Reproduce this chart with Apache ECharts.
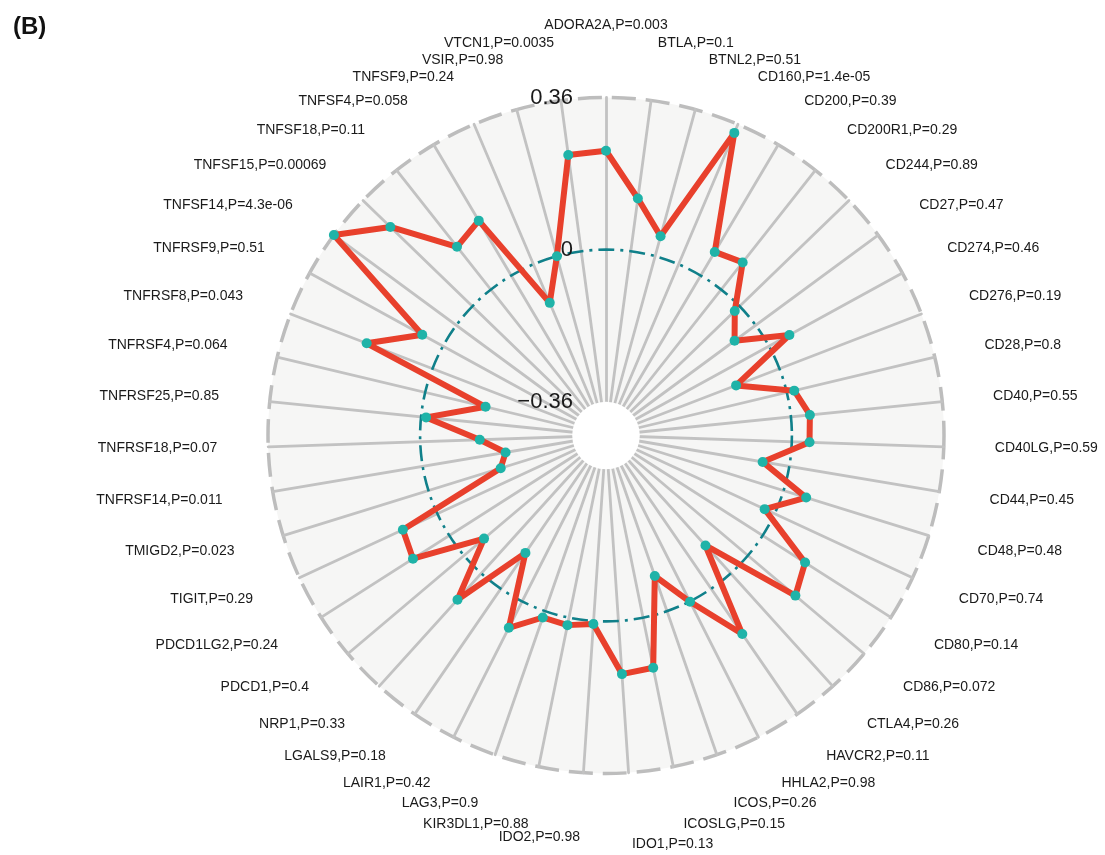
<!DOCTYPE html>
<html>
<head>
<meta charset="utf-8">
<title>radar</title>
<script src="https://cdn.jsdelivr.net/npm/echarts@6/dist/echarts.min.js"></script>
<style>
  html, body { margin: 0; padding: 0; background: #fff; }
  #main { width: 1105px; height: 855px; }
</style>
</head>
<body>
<div id="main"></div>
<script>
// genes, clockwise from the top
var genes = ['ADORA2A', 'BTLA', 'BTNL2', 'CD160', 'CD200', 'CD200R1', 'CD244', 'CD27', 'CD274', 'CD276',
  'CD28', 'CD40', 'CD40LG', 'CD44', 'CD48', 'CD70', 'CD80', 'CD86', 'CTLA4', 'HAVCR2',
  'HHLA2', 'ICOS', 'ICOSLG', 'IDO1', 'IDO2', 'KIR3DL1', 'LAG3', 'LAIR1', 'LGALS9', 'NRP1',
  'PDCD1', 'PDCD1LG2', 'TIGIT', 'TMIGD2', 'TNFRSF14', 'TNFRSF18', 'TNFRSF25', 'TNFRSF4', 'TNFRSF8', 'TNFRSF9',
  'TNFSF14', 'TNFSF15', 'TNFSF18', 'TNFSF4', 'TNFSF9', 'VSIR', 'VTCN1'];
var pvals = ['0.003', '0.1', '0.51', '1.4e-05', '0.39', '0.29', '0.89', '0.47', '0.46', '0.19',
  '0.8', '0.55', '0.59', '0.45', '0.48', '0.74', '0.14', '0.072', '0.26', '0.11',
  '0.98', '0.26', '0.15', '0.13', '0.98', '0.88', '0.9', '0.42', '0.18', '0.33',
  '0.4', '0.24', '0.29', '0.023', '0.011', '0.07', '0.85', '0.064', '0.043', '0.51',
  '4.3e-06', '0.00069', '0.11', '0.058', '0.24', '0.98', '0.0035'];
var corr = [0.234, 0.126, 0.049, 0.338, 0.065, 0.082, -0.016, -0.062, 0.055, -0.110,
  0.018, 0.045, 0.042, -0.064, 0.056, -0.026, 0.119, 0.147, -0.089, 0.130,
  0.001, -0.088, 0.121, 0.126, 0.007, 0.018, 0.016, 0.070, -0.103, 0.084,
  -0.062, 0.102, 0.090, -0.179, -0.199, -0.141, -0.012, -0.147, 0.167, 0.056,
  0.360, 0.270, 0.129, 0.151, -0.099, 0.000, 0.230];

var tickValues = [-0.36, 0, 0.36];
var tickLabels = ['\u22120.36', '0', '0.36'];
var axisMin = -0.44, axisMax = 0.36;

// a few names near top/bottom sit a bit further out in the original
// (blank lines: negative = push up, positive = push down)
var nameShift = { ADORA2A: -1, BTLA: -1, VTCN1: -1, ICOSLG: 1, KIR3DL1: 1, IDO2: 2, IDO1: 3 };

// radar in echarts goes counter-clockwise: keep the first, reverse the rest
function ccw(arr) { return [arr[0]].concat(arr.slice(1).reverse()); }

var names = genes.map(function (g, i) { return g + ',P=' + pvals[i]; });
function makeIndicator(withLabel) {
  return ccw(names).map(function (n, i) {
    var o = { name: n, min: axisMin, max: axisMax };
    if (withLabel && i === 0) {
      o.axisLabel = {
        show: true,
        margin: 33,
        fontSize: 22,
        color: '#1a1a1a',
        fontFamily: 'Liberation Sans',
        showMinLabel: true,
        showMaxLabel: true,
        formatter: function (v) {
          for (var k = 0; k < tickValues.length; k++) {
            if (Math.abs(v - tickValues[k]) < 1e-6) return tickLabels[k];
          }
          return '';
        }
      };
    }
    return o;
  });
}

// one colour per ring, everything else "fill"
function ringColors(n, fill, special) {
  var out = [];
  for (var i = 0; i < n; i++) out.push(special[i] || fill);
  return out;
}

var center = [606, 435.5];
var radius = 338;
var hidden = {
  axisName: { show: false },
  axisLine: { show: false },
  axisLabel: { show: false },
  axisTick: { show: false }
};
function radarBox(extra) {
  var o = { center: center, radius: radius, shape: 'circle' };
  for (var k in hidden) o[k] = hidden[k];
  for (var k2 in extra) o[k2] = extra[k2];
  return o;
}

var myChart = echarts.init(document.getElementById('main'));
myChart.setOption({
  animation: false,
  title: {
    text: '(B)',
    left: 8,
    top: 10,
    textStyle: { fontSize: 24, fontWeight: 'bold', color: '#111', fontFamily: 'Liberation Sans' }
  },
  radar: [
    // background, spokes, outer dashed circle, gene names
    {
      z: 0,
      center: center,
      radius: radius,
      shape: 'circle',
      splitNumber: 10,
      indicator: makeIndicator(false),
      axisName: {
        color: '#1a1a1a',
        fontSize: 14,
        lineHeight: 14,
        fontFamily: 'Liberation Sans',
        formatter: function (name) {
          var s = nameShift[name.split(',')[0]] || 0;
          var pad = new Array(Math.abs(s) + 1).join('\n');
          return s < 0 ? name + pad : pad + name;
        }
      },
      nameGap: 51,
      axisLine: { lineStyle: { color: '#c2c2c2', width: 2.8 } },
      axisLabel: { show: false },
      axisTick: { show: false },
      splitLine: {
        lineStyle: {
          color: ringColors(11, 'transparent', { 10: '#bdbdbd' }),
          width: 3.5,
          type: [24, 10]
        }
      },
      splitArea: { areaStyle: { color: '#f6f6f5' } }
    },
    // white centre (below -0.36)
    radarBox({
      z: 1,
      splitNumber: 10,
      indicator: makeIndicator(false),
      splitLine: { show: false },
      splitArea: { areaStyle: { color: ringColors(10, 'transparent', { 0: '#ffffff' }) } }
    }),
    // dash-dot ring at 0
    radarBox({
      z: 1,
      splitNumber: 20,
      indicator: makeIndicator(false),
      splitLine: {
        lineStyle: {
          color: ringColors(21, 'transparent', { 11: '#10808a' }),
          width: 2.6,
          type: [16, 6, 3, 6]
        }
      },
      splitArea: { show: false }
    }),
    // tick labels on the top spoke
    radarBox({
      z: 3,
      splitNumber: 20,
      indicator: makeIndicator(true),
      splitLine: { show: false },
      splitArea: { show: false }
    })
  ],
  series: [{
    type: 'radar',
    radarIndex: 0,
    z: 2,
    symbol: 'circle',
    symbolSize: 10,
    lineStyle: { color: '#e8402c', width: 6, join: 'round' },
    itemStyle: { color: '#1fb3a8' },
    data: [{ value: ccw(corr), name: 'correlation' }]
  }]
});
</script>
</body>
</html>
